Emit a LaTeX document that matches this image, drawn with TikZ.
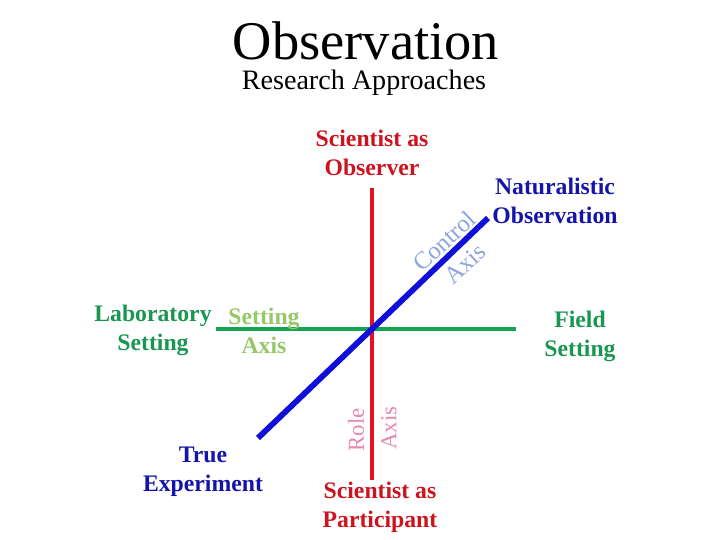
\documentclass[tikz,border=0pt]{standalone}
\usepackage{fontspec}
\setmainfont{Liberation Serif}
\definecolor{roleRed}{RGB}{228,20,30}
\definecolor{roleText}{RGB}{205,20,30}
\definecolor{rolePink}{RGB}{232,135,175}
\definecolor{settingGreen}{RGB}{20,165,80}
\definecolor{settingText}{RGB}{25,150,80}
\definecolor{settingLight}{RGB}{150,200,105}
\definecolor{controlBlue}{RGB}{15,15,215}
\definecolor{controlText}{RGB}{20,20,170}
\definecolor{controlLight}{RGB}{140,165,220}
\begin{document}
\begin{tikzpicture}[x=0.02cm, y=-0.02cm,
  lbl/.style={font=\fontsize{13.5}{16.5}\selectfont\bfseries, align=center},
  axislbl/.style={font=\fontsize{13}{13}\selectfont, inner sep=0pt}]
  \useasboundingbox (0,0) rectangle (720,540);
  % title
  \node[anchor=base] (title) at (366,60) {\fontsize{31}{31}\selectfont Observation};
  \node[anchor=base] (subtitle) at (364,90) {\fontsize{16}{16}\selectfont Research Approaches};
  % axes
  \coordinate (roleTop) at (372,188);\coordinate (roleBot) at (372,480);
  \coordinate (setL) at (216,329);\coordinate (setR) at (516,329);
  \coordinate (ctrlLo) at (258,438);\coordinate (ctrlHi) at (488,218);
  \draw[roleRed, line width=2.8pt] (roleTop) -- (roleBot);
  \draw[settingGreen, line width=2.8pt] (setL) -- (setR);
  \draw[controlBlue, line width=3.3pt] (ctrlLo) -- (ctrlHi);
  % end labels
  \node[lbl, text=roleText] (observer) at (372,153) {Scientist as\\Observer};
  \node[lbl, text=roleText] (participant) at (380,507) {Scientist as\\Participant};
  \node[lbl, text=settingText] (lab) at (153,330) {Laboratory\\Setting};
  \node[lbl, text=settingText] (field) at (580,336) {Field\\Setting};
  \node[lbl, text=controlText] (natural) at (555,201) {Naturalistic\\Observation};
  \node[lbl, text=controlText] (experiment) at (203,472) {True\\Experiment};
  % axis names
  \node[lbl, text=settingLight] (setAxis) at (264,331) {Setting\\Axis};
  \node[axislbl, text=rolePink, rotate=90] (roleA) at (356,430) {Role};
  \node[axislbl, text=rolePink, rotate=90] (roleB) at (389,428) {Axis};
  \node[axislbl, text=controlLight, rotate=43, font=\fontsize{14}{14}\selectfont] (ctrlA) at (444,241) {Control};
  \node[axislbl, text=controlLight, rotate=43, font=\fontsize{14}{14}\selectfont] (ctrlB) at (465,264) {Axis};
\end{tikzpicture}
\end{document}
